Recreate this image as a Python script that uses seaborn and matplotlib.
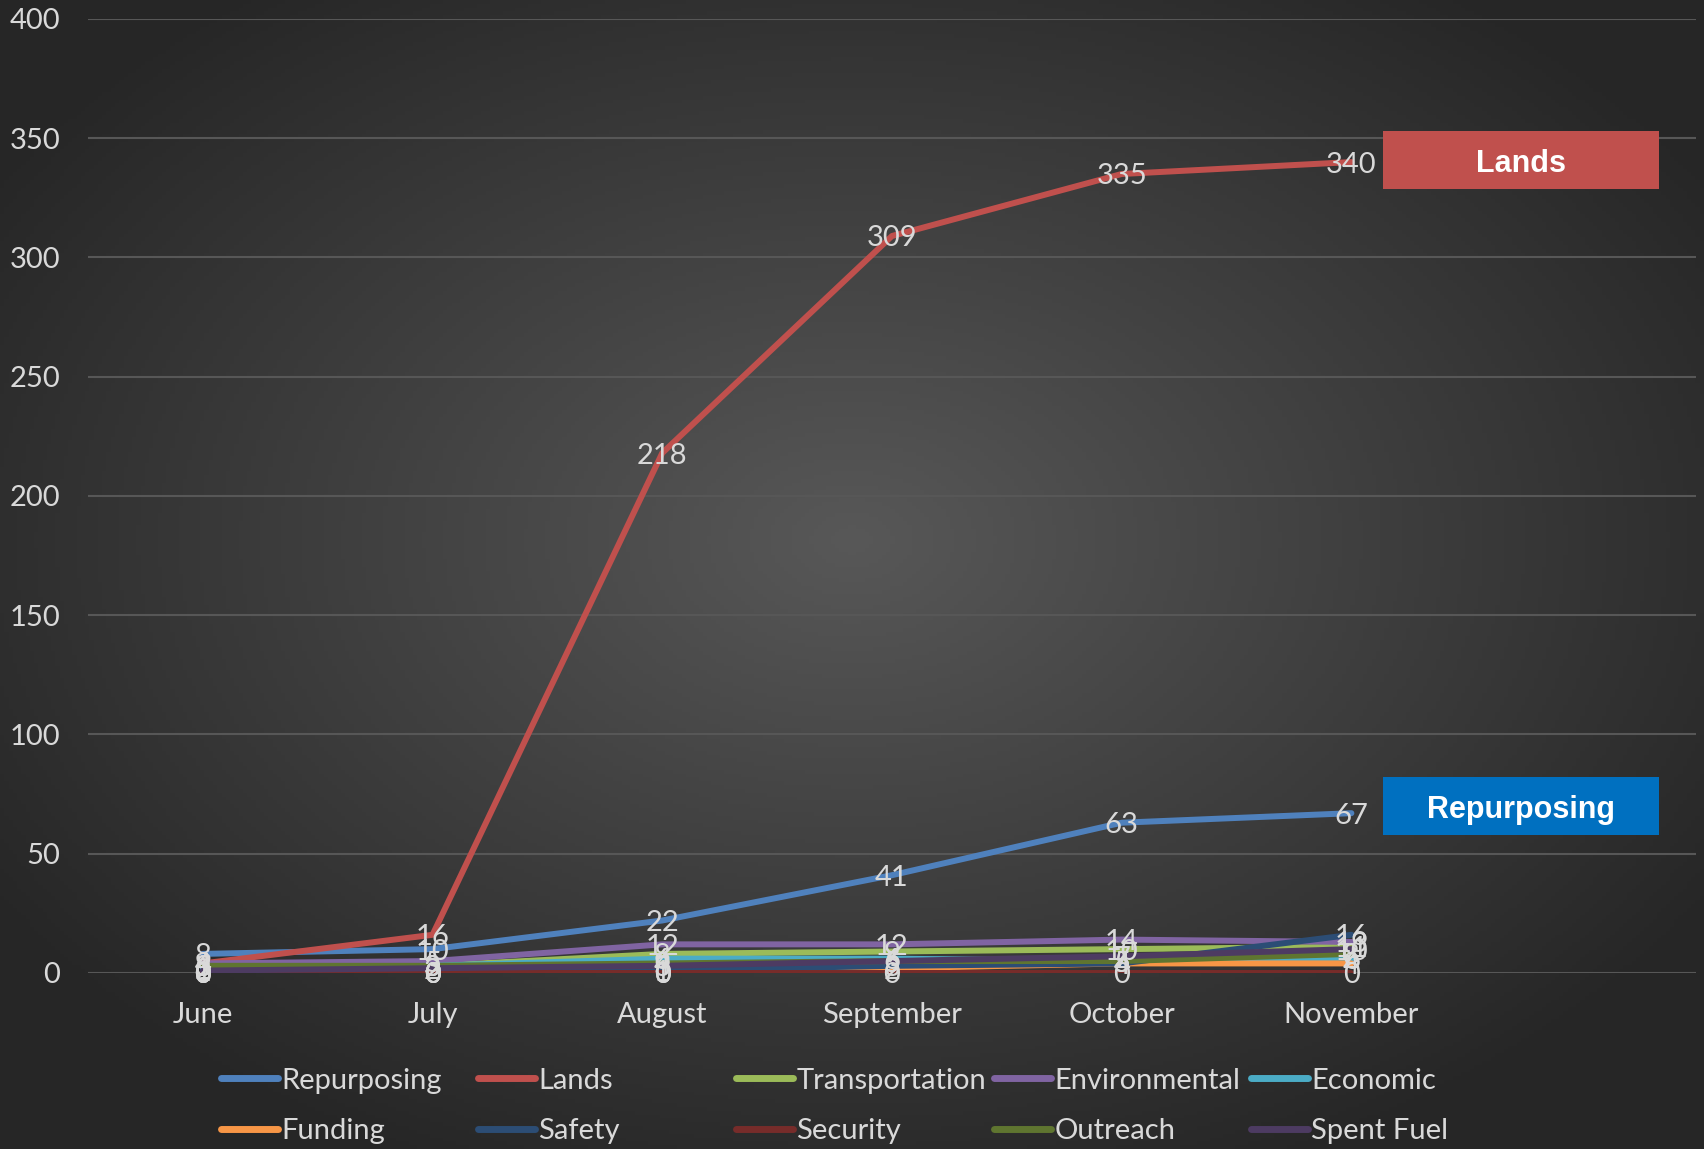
import numpy as np
import pandas as pd
import matplotlib
matplotlib.use('Agg')
import matplotlib.pyplot as plt
import seaborn as sns
from matplotlib.lines import Line2D
from matplotlib.patches import Rectangle

# Data
months = ['June', 'July', 'August', 'September', 'October', 'November']
repurposing = [8, 10, 22, 41, 63, 67]
lands = [4, 16, 218, 309, 335, 340]
transportation = [3, 3, 8, 9, 10, 11]
environmental = [4, 5, 12, 12, 14, 13]
economic = [2, 3, 6, 6, 5, 6]
funding = [0, 0, 0, 2, 4, 4]
safety = [0, 0, 1, 3, 4, 16]
security = [0, 0, 0, 0, 0, 0]
outreach = [3, 3, 4, 5, 5, 8]
spent_fuel = [1, 2, 3, 5, 7, 10]

series = {
    'Repurposing': repurposing, 'Lands': lands, 'Transportation': transportation,
    'Environmental': environmental, 'Economic': economic, 'Funding': funding,
    'Safety': safety, 'Security': security, 'Outreach': outreach, 'Spent Fuel': spent_fuel,
}
colors = ['#4F81BD', '#C0504D', '#9BBB59', '#8064A2', '#4BACC6',
          '#F79646', '#2C4D75', '#772C2A', '#5F7530', '#4D3B62']

rows = []
for name, vals in series.items():
    for m, v in zip(months, vals):
        rows.append({'month': m, 'value': v, 'series': name})
df = pd.DataFrame(rows)

sns.set_style('dark')
plt.rcParams['font.family'] = ['Lato', 'DejaVu Sans']
txt = '#D9D9D9'

fig = plt.figure(figsize=(17.04, 11.49), dpi=100)

# radial dark background
bg = fig.add_axes([0, 0, 1, 1], zorder=-10)
gx, gy = np.meshgrid(np.linspace(0, 1, 400), np.linspace(0, 1, 300))
r = np.clip(np.sqrt(((gx - 0.5) / 0.6) ** 2 + ((gy - 0.47) / 0.6) ** 2), 0, 1)
c0, c1 = 0x58 / 255, 0x26 / 255
shade = c0 + (c1 - c0) * r
bg.imshow(np.dstack([shade, shade, shade]), aspect='auto', extent=[0, 1, 0, 1])
bg.axis('off')

ax = fig.add_axes([0.0516, 0.1532, 0.9437, 0.8303])
ax.set_facecolor('none')

sns.lineplot(data=df, x='month', y='value', hue='series', palette=colors,
             linewidth=4.3, legend=False, ax=ax, sort=False)

ax.set_xlim(-0.5, 6.5)
ax.set_ylim(0, 400)
ax.set_yticks(range(0, 401, 50))
ax.set_xticks(range(len(months)))
ax.set_xticklabels(months)
ax.grid(axis='y', color='#575757', linewidth=1.5)
ax.grid(axis='x', visible=False)
ax.set_axisbelow(True)
for s in ax.spines.values():
    s.set_visible(False)
ax.tick_params(axis='y', length=0, pad=20, labelsize=21, labelcolor=txt)
ax.tick_params(axis='x', length=0, pad=21, labelsize=21, labelcolor=txt)
ax.set_xlabel('')
ax.set_ylabel('')

# data labels, centered on points
for name, vals in series.items():
    for i, v in enumerate(vals):
        ax.text(i, v, str(v), ha='center', va='center_baseline', fontsize=21,
                color=txt, zorder=6)

# callout boxes
for (y0, label, col) in [(0.8355, 'Lands', '#C0504D'), (0.2733, 'Repurposing', '#0070C0')]:
    fig.patches.append(Rectangle((0.8116, y0), 0.162, 0.0505, transform=fig.transFigure,
                                 facecolor=col, edgecolor='none', zorder=5))
    fig.text(0.8116 + 0.081, y0 + 0.0252, label, ha='center', va='center_baseline',
             fontsize=22, fontweight='bold', color='white', family='Liberation Sans', zorder=6)

# legend: 5 columns of 2 items at fixed positions
names = list(series.keys())
col_x = [221, 478, 736, 994, 1251]
for j, x in enumerate(col_x):
    idx = [j, j + 5]
    handles = [Line2D([0], [0], color=colors[k], linewidth=5, solid_capstyle='round') for k in idx]
    fig.legend(handles, [names[k] for k in idx], loc='center left',
               bbox_to_anchor=(x / 1704, 0.0375), frameon=False, fontsize=21,
               labelcolor=txt, handlelength=1.95, handletextpad=0.12,
               labelspacing=0.85, borderpad=0, borderaxespad=0)

fig.savefig('out.png', dpi=100)
